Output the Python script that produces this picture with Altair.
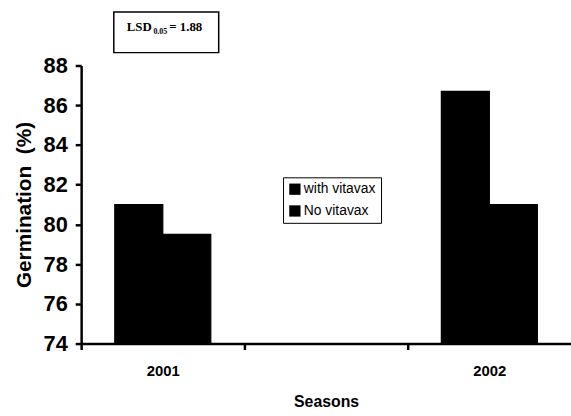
import altair as alt
import pandas as pd

# --- data ---
seasons = ["2001", " ", "2002"]           # middle category is an empty slot
treatments = ["with vitavax", "No vitavax"]
bar_season = ["2001", "2001", "2002", "2002"]
bar_treatment = ["with vitavax", "No vitavax", "with vitavax", "No vitavax"]
bar_value = [81.0, 79.5, 86.7, 81.0]
y_ticks = [74, 76, 78, 80, 82, 84, 86, 88]
lsd_label = "LSD"
lsd_sub = "0.05"
lsd_value = "= 1.88"

df = pd.DataFrame({"season": bar_season, "treatment": bar_treatment, "value": bar_value})

SANS = "Liberation Sans"
SERIF = "Liberation Serif"
W, H = 495, 281
STEP = W / len(seasons)

bars = alt.Chart(df).mark_bar(color="black", stroke="black", strokeWidth=1.2).encode(
    x=alt.X(
        "season:N",
        scale=alt.Scale(domain=seasons, paddingInner=0.412, paddingOuter=0.206),
        sort=seasons,
        axis=alt.Axis(
            title="Seasons",
            titleFont=SANS, titleFontSize=16, titleFontWeight="bold", titleColor="black",
            titlePadding=16,
            labelFont=SANS, labelFontSize=15, labelFontWeight="bold", labelColor="black",
            labelPadding=14, labelAngle=0,
            tickOffset=-STEP / 2, labelOffset=STEP / 2,
            tickSize=6, tickWidth=2.5, tickColor="black",
            domainWidth=2.5, domainColor="black", grid=False,
        ),
    ),
    xOffset=alt.XOffset("treatment:N", scale=alt.Scale(domain=treatments), sort=treatments),
    y=alt.Y(
        "value:Q",
        scale=alt.Scale(domain=[74, 88], zero=False, nice=False),
        axis=alt.Axis(
            title="Germination\u00a0\u00a0(%)",
            titleFont=SANS, titleFontSize=21, titleFontWeight="bold", titleColor="black",
            titlePadding=9,
            values=y_ticks,
            labelFont=SANS, labelFontSize=22, labelFontWeight="bold", labelColor="black",
            labelPadding=8,
            tickSize=6, tickWidth=2.5, tickColor="black",
            domainWidth=2.5, domainColor="black", grid=False,
        ),
    ),
    y2=alt.datum(74),
    color=alt.Color(
        "treatment:N",
        scale=alt.Scale(domain=treatments, range=["black", "black"]),
        legend=alt.Legend(
            title=None, orient="none", legendX=204, legendY=113,
            strokeColor="black", padding=5,
            symbolType="square", symbolSize=130, symbolStrokeWidth=0,
            labelFont=SANS, labelFontSize=14, labelColor="black",
            labelOffset=2, rowPadding=8,
        ),
    ),
)

note = pd.DataFrame({"k": [0]})
box = alt.Chart(note).mark_rect(fill="white", stroke="black", strokeWidth=1.5).encode(
    x=alt.value(33), x2=alt.value(139), y=alt.value(-54), y2=alt.value(-13)
)
t1 = alt.Chart(note).mark_text(
    text=lsd_label, font=SERIF, fontSize=13, fontWeight="bold", align="left",
    baseline="alphabetic", color="black",
).encode(x=alt.value(46), y=alt.value(-35))
t2 = alt.Chart(note).mark_text(
    text=lsd_sub, font=SERIF, fontSize=8, fontWeight="bold", align="left",
    baseline="alphabetic", color="black",
).encode(x=alt.value(73), y=alt.value(-32))
t3 = alt.Chart(note).mark_text(
    text=lsd_value, font=SERIF, fontSize=13, fontWeight="bold", align="left",
    baseline="alphabetic", color="black",
).encode(x=alt.value(89), y=alt.value(-35))

chart = alt.layer(bars, box, t1, t2, t3).properties(
    width=W, height=H,
    autosize=alt.AutoSizeParams(type="none"),
    padding={"left": 82, "top": 64, "right": 0, "bottom": 71},
    background="white",
).configure_view(stroke=None)

chart.save("out.html", embed_options={"renderer": "svg", "actions": False})
